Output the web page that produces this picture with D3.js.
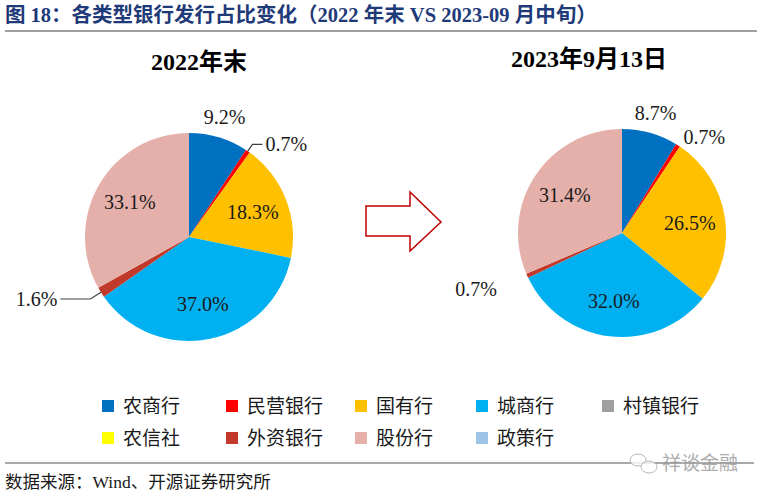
<!DOCTYPE html>
<html>
<head>
<meta charset="utf-8">
<script src="https://cdn.jsdelivr.net/npm/d3@7"></script>
<style>
  body { margin: 0; background: #fff; }
  svg { display: block; font-family: "Liberation Serif", "Noto Sans CJK SC", serif; }
</style>
</head>
<body>
<svg id="canvas" width="761" height="500"></svg>
<script>
'use strict';

/* categories, shares (%) and colours */
const categories = ['农商行', '民营银行', '国有行', '城商行', '村镇银行', '农信社', '外资银行', '股份行', '政策行'];
const colors = ['#0070C0', '#FF0000', '#FFC000', '#00B0F0', '#A0A0A0', '#FFFF00', '#C0392B', '#E6B0AA', '#9DC3E6'];
const share2022 = [9.2, 0.7, 18.3, 37.0, 0, 0, 1.6, 33.1, 0];
const share2023 = [8.7, 0.7, 26.5, 32.0, 0, 0, 0.7, 31.4, 0];
const pieTitles = ['2022年末', '2023年9月13日'];

const chartTitle = '图 18：各类型银行发行占比变化（2022 年末 VS 2023-09 月中旬）';
const sourceText = '数据来源：Wind、开源证券研究所';

const W = 761, H = 500;
const R = 104;

/* per pie layout: centre, title position and how each label is placed */
const pies = [
  {
    values: share2022, title: pieTitles[0], cx: 189, cy: 237, tx: 199, ty: 62,
    labels: { '农商行': ['out', 1.2], '民营银行': ['leader', 1.08, 10], '外资银行': ['leader', 1.12, 30] }
  },
  {
    values: share2023, title: pieTitles[1], cx: 622, cy: 233, tx: 589, ty: 59,
    labels: { '农商行': ['out', 1.2], '民营银行': ['out', 1.1], '外资银行': ['out', 1.32] }
  }
];

const svg = d3.select('#canvas');

/* header */
svg.append('text')
  .attr('x', 5).attr('y', 15)
  .attr('dominant-baseline', 'central')
  .style('font-size', '20.5px').style('font-weight', 'bold')
  .style('fill', '#1F3A78')
  .text(chartTitle);
svg.append('line')
  .attr('x1', 5).attr('x2', 757).attr('y1', 31).attr('y2', 31)
  .style('stroke', '#7f7f7f').style('stroke-width', 1.5);

const color = d3.scaleOrdinal().domain(categories).range(colors);
const pie = d3.pie().sort(null).value(d => d.value);
const arc = d3.arc().innerRadius(0).outerRadius(R);
const fmt = d3.format('.1f');

pies.forEach(function(p){
  const data = categories.map((c, i) => ({ cat: c, value: p.values[i] }));
  const arcs = pie(data);
  const g = svg.append('g').attr('transform', `translate(${p.cx},${p.cy})`);

  svg.append('text')
    .attr('x', p.tx).attr('y', p.ty)
    .attr('text-anchor', 'middle').attr('dominant-baseline', 'central')
    .style('font-size', '24px').style('font-weight', 'bold').style('fill', '#000')
    .text(p.title);

  g.selectAll('path')
    .data(arcs.filter(d => d.value > 0))
    .enter().append('path')
    .attr('d', arc)
    .style('fill', d => color(d.data.cat));

  /* labels */
  arcs.filter(d => d.value > 0).forEach(function(d){
    const mid = (d.startAngle + d.endAngle) / 2;
    const s = Math.sin(mid), c = -Math.cos(mid);
    const spec = p.labels[d.data.cat] || ['in', 0.66];
    const txt = fmt(d.value) + '%';
    const lab = g.append('text')
      .attr('dominant-baseline', 'central')
      .style('font-size', '20px').style('fill', '#1a1a1a')
      .text(txt);

    if (spec[0] === 'in') {
      lab.attr('x', R * spec[1] * s).attr('y', R * spec[1] * c).attr('text-anchor', 'middle');
    } else if (spec[0] === 'out') {
      const anchor = Math.abs(s) < 0.5 ? 'middle' : (s > 0 ? 'start' : 'end');
      lab.attr('x', R * spec[1] * s).attr('y', R * spec[1] * c).attr('text-anchor', anchor);
    } else {
      const dir = s > 0 ? 1 : -1;
      const ex = R * spec[1] * s, ey = R * spec[1] * c;
      const hx = ex + dir * spec[2];
      g.append('path')
        .attr('d', d3.line()([[R * s, R * c], [ex, ey], [hx, ey]]))
        .style('fill', 'none').style('stroke', '#404040').style('stroke-width', 1.2);
      lab.attr('x', hx + dir * 3).attr('y', ey)
        .attr('text-anchor', dir > 0 ? 'start' : 'end');
    }
  });
});

/* arrow between the pies */
const arrowPts = [[366, 206], [410, 206], [410, 192], [441, 222], [410, 251], [410, 236], [366, 236]];
svg.append('path')
  .attr('d', d3.line()(arrowPts) + 'Z')
  .style('fill', '#fff').style('stroke', '#C00000').style('stroke-width', 1.5);

/* legend: 5 columns, 2 rows */
const legendX = [102, 226, 355, 476, 602];
const legendY = [406, 438];
const legend = svg.append('g').selectAll('g')
  .data(categories)
  .enter().append('g')
  .attr('transform', (d, i) => `translate(${legendX[i % 5]},${legendY[Math.floor(i / 5)]})`);
legend.append('rect')
  .attr('x', 0).attr('y', -6).attr('width', 12).attr('height', 12)
  .style('fill', d => color(d));
legend.append('text')
  .attr('x', 21).attr('y', 0)
  .attr('dominant-baseline', 'central')
  .style('font-size', '19px').style('fill', '#1a1a1a')
  .text(d => d);

/* footer */
svg.append('line')
  .attr('x1', 5).attr('x2', 754).attr('y1', 463).attr('y2', 463)
  .style('stroke', '#555').style('stroke-width', 1.2);
svg.append('text')
  .attr('x', 5).attr('y', 482)
  .attr('dominant-baseline', 'central')
  .style('font-size', '17.5px').style('fill', '#1a1a1a')
  .text(sourceText);

/* faint watermark */
const wm = svg.append('g').style('opacity', 0.8);
wm.append('ellipse').attr('cx', 638).attr('cy', 460).attr('rx', 8).attr('ry', 6)
  .style('fill', '#fff').style('stroke', '#aaa');
wm.append('ellipse').attr('cx', 649).attr('cy', 467).attr('rx', 8).attr('ry', 6)
  .style('fill', '#fff').style('stroke', '#aaa');
wm.append('text')
  .attr('x', 662).attr('y', 463)
  .attr('dominant-baseline', 'central')
  .style('font-size', '19px').style('fill', '#999')
  .text('祥谈金融');
</script>
</body>
</html>
